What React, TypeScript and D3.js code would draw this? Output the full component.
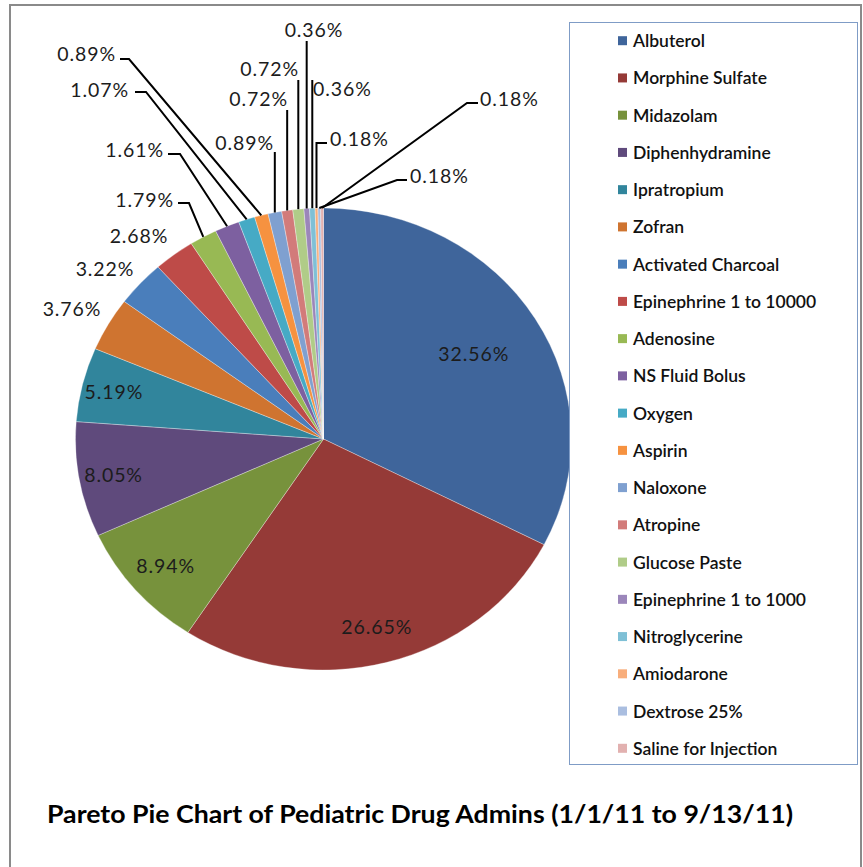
import React from "react";
import * as d3 from "d3";

const categories = [
  "Albuterol", "Morphine Sulfate", "Midazolam", "Diphenhydramine", "Ipratropium",
  "Zofran", "Activated Charcoal", "Epinephrine 1 to 10000", "Adenosine", "NS Fluid Bolus",
  "Oxygen", "Aspirin", "Naloxone", "Atropine", "Glucose Paste",
  "Epinephrine 1 to 1000", "Nitroglycerine", "Amiodarone", "Dextrose 25%", "Saline for Injection",
];
const percentages = [
  32.56, 26.65, 8.94, 8.05, 5.19, 3.76, 3.22, 2.68, 1.79, 1.61,
  1.07, 0.89, 0.89, 0.72, 0.72, 0.36, 0.36, 0.18, 0.18, 0.18,
];
const colors = [
  "#3f659b", "#953a37", "#77923c", "#5f4a7c", "#31859c",
  "#cf7430", "#4a7ebb", "#be4b48", "#98b954", "#7d60a0",
  "#46aac5", "#f69240", "#7fa0d0", "#d27b7a", "#b0cc88",
  "#9b86ba", "#7fc0d6", "#f8ae7c", "#aabee0", "#e2b1b0",
];
const titleText = "Pareto Pie Chart of Pediatric Drug Admins (1/1/11 to 9/13/11)";

// layout (positions of label text / leader elbows)
type LabelLayout =
  | { kind: "inside"; f: number }
  | { kind: "outside"; x: number; y: number }
  | { kind: "leader"; x: number; y: number; anchor: "start" | "end" | "middle"; ex: number | null; ey: number; hx: number | null };

const labelLayout: LabelLayout[] = [
  { kind: "inside", f: 0.71 },
  { kind: "inside", f: 0.84 },
  { kind: "inside", f: 0.84 },
  { kind: "inside", f: 0.86 },
  { kind: "inside", f: 0.87 },
  { kind: "outside", x: 72, y: 308 },
  { kind: "outside", x: 105, y: 268 },
  { kind: "outside", x: 139, y: 235 },
  { kind: "leader", x: 174, y: 199, anchor: "end", ex: 189, ey: 203, hx: 178 },
  { kind: "leader", x: 164, y: 149, anchor: "end", ex: 180, ey: 154, hx: 168 },
  { kind: "leader", x: 129, y: 89, anchor: "end", ex: 146, ey: 92, hx: 135 },
  { kind: "leader", x: 116, y: 53, anchor: "end", ex: 129, ey: 59, hx: 120 },
  { kind: "leader", x: 274, y: 142, anchor: "end", ex: null, ey: 152, hx: null },
  { kind: "leader", x: 288, y: 98, anchor: "end", ex: null, ey: 110, hx: null },
  { kind: "leader", x: 299, y: 68, anchor: "end", ex: null, ey: 80, hx: null },
  { kind: "leader", x: 314, y: 29, anchor: "middle", ex: null, ey: 41, hx: null },
  { kind: "leader", x: 313, y: 88, anchor: "start", ex: null, ey: 80, hx: null },
  { kind: "leader", x: 330, y: 138, anchor: "start", ex: null, ey: 143, hx: 327 },
  { kind: "leader", x: 410, y: 175, anchor: "start", ex: 397, ey: 180, hx: 407 },
  { kind: "leader", x: 480, y: 98, anchor: "start", ex: 467, ey: 103, hx: 478 },
];

const W = 863;
const H = 867;
const cx = 323.5;
const cy = 439;
const rx = 248;
const ry = 231;

const FONT = "Lato, 'Open Sans', sans-serif";

export default function App() {
  const data = percentages.map((v, i) => ({ name: categories[i], value: v, color: colors[i], i }));
  const pie = d3.pie<any>().value((d) => d.value).sort(null);
  const arcs = pie(data);
  const arc = d3.arc<any>().innerRadius(0).outerRadius(ry);

  const pt = (angle: number, f: number) => [cx + rx * f * Math.sin(angle), cy - ry * f * Math.cos(angle)];

  const legendY = d3.scaleLinear().domain([0, categories.length - 1]).range([40.7, 748.3]);

  return (
    <svg
      width={W}
      height={H}
      style={{ position: "fixed", left: 0, top: 0, background: "#fff" }}
      fontFamily={FONT}
    >
      <rect x={0} y={0} width={W} height={H} fill="#fff" />
      <rect x={10} y={5} width={851} height={880} fill="none" stroke="#8a8a8a" strokeWidth={2} />

      <g transform={`translate(${cx},${cy}) scale(${rx / ry},1)`}>
        {arcs.map((a, i) => (
          <path
            key={i}
            d={arc(a) as string}
            fill={a.data.color}
            stroke="#ffffff"
            strokeOpacity={0.45}
            strokeWidth={0.7}
            vectorEffect="non-scaling-stroke"
          />
        ))}
      </g>

      {arcs.map((a, i) => {
        const lay = labelLayout[i];
        const mid = (a.startAngle + a.endAngle) / 2;
        const txt = `${percentages[i].toFixed(2)}%`;
        const common = {
          fontSize: 19.5,
          fill: "#1c1c1c",
          letterSpacing: 0.9,
          dominantBaseline: "central" as const,
        };
        if (lay.kind === "inside") {
          const [x, y] = pt(mid, lay.f);
          return (
            <text key={i} x={x} y={y} textAnchor="middle" {...common}>
              {txt}
            </text>
          );
        }
        if (lay.kind === "outside") {
          return (
            <text key={i} x={lay.x} y={lay.y} textAnchor="middle" {...common}>
              {txt}
            </text>
          );
        }
        const [ax, ay] = pt(mid, 1);
        const ex = lay.ex === null ? ax : lay.ex;
        let d = `M${ax},${ay}L${ex},${lay.ey}`;
        if (lay.hx !== null) d += `L${lay.hx},${lay.ey}`;
        return (
          <g key={i}>
            <path d={d} fill="none" stroke="#000" strokeWidth={2} />
            <text x={lay.x} y={lay.y} textAnchor={lay.anchor} {...common}>
              {txt}
            </text>
          </g>
        );
      })}

      <rect x={569.5} y={22.5} width={288} height={742} fill="#fff" stroke="#7f9cc6" strokeWidth={1} />
      {categories.map((c, i) => (
        <g key={c} transform={`translate(0,${legendY(i)})`}>
          <rect x={618} y={-4.5} width={9} height={9} fill={colors[i]} />
          <text x={633} y={0} dominantBaseline="central" fontSize={17.5} fontWeight={600} fill="#111">
            {c}
          </text>
        </g>
      ))}

      <text
        x={47}
        y={813}
        dominantBaseline="central"
        fontSize={24}
        fontWeight={700}
        fill="#000"
        textLength={746}
        lengthAdjust="spacingAndGlyphs"
      >
        {titleText}
      </text>
    </svg>
  );
}
